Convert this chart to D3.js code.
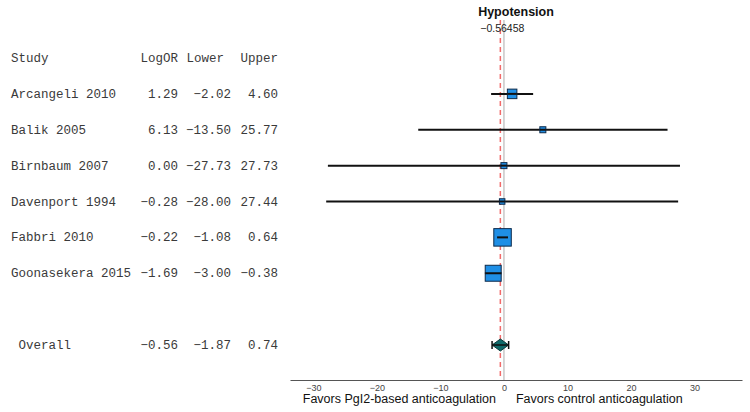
<!DOCTYPE html>
<html><head><meta charset="utf-8">
<script src="https://cdn.jsdelivr.net/npm/d3@7"></script>
<style>body{margin:0;background:#fff}svg{display:block}</style>
</head><body>
<svg id="c" width="750" height="412"></svg>
<script>
const studies = ["Arcangeli 2010","Balik 2005","Birnbaum 2007","Davenport 1994","Fabbri 2010","Goonasekera 2015"];
const logOR = [1.29, 6.13, 0.00, -0.28, -0.22, -1.69];
const lower = [-2.02, -13.50, -27.73, -28.00, -1.08, -3.00];
const upper = [4.60, 25.77, 27.73, 27.44, 0.64, -0.38];
const weights = [12.0, 4.8, 4.8, 4.0, 40.6, 33.8];
const overall = {label:"Overall", est:-0.56, lo:-1.87, hi:0.74, exact:-0.56458};
const headers = ["Study","LogOR","Lower","Upper"];
const xTicks = [-30,-20,-10,0,10,20,30];
const title = "Hypotension";
const leftLabel = "Favors PgI2-based anticoagulation";
const rightLabel = "Favors control anticoagulation";

const svg = d3.select("#c");
const x = d3.scaleLinear().domain([-33.7, 37.5]).range([290, 742]);
const y = d3.scalePoint().domain(d3.range(9)).range([58, 345]);
const size = d3.scaleSqrt().domain([0, 40.6]).range([0, 17.5]);
const mono = "'Liberation Mono','Courier New',monospace";
const sans = "'Liberation Sans',Arial,sans-serif";
const fmt = d3.format(".2f");

// reference lines
svg.append("line").attr("x1",x(0)).attr("x2",x(0)).attr("y1",20).attr("y2",380)
  .attr("stroke","#c8c8c8").attr("stroke-width",1.5);
svg.append("line").attr("x1",x(overall.exact)).attr("x2",x(overall.exact)).attr("y1",20).attr("y2",380)
  .attr("stroke","#f26a6a").attr("stroke-width",1.5).attr("stroke-dasharray","5,4");

// title
svg.append("text").attr("x",516).attr("y",16).attr("text-anchor","middle")
  .attr("font-family",sans).attr("font-weight","bold").attr("font-size",12.5).attr("fill","#111").text(title);
svg.append("text").attr("x",x(overall.exact)+2).attr("y",32).attr("text-anchor","middle")
  .attr("font-family",sans).attr("font-size",10.5).attr("fill","#222").text(String(overall.exact).replace("-","\u2212"));

// axis
const axis = d3.axisBottom(x).tickValues(xTicks).tickSize(0).tickPadding(5);
const ag = svg.append("g").attr("transform","translate(0,380)").call(axis);
ag.select(".domain").attr("stroke","#555").attr("stroke-width",1.2);
ag.selectAll("text").attr("font-family",sans).attr("font-size",9).attr("fill","#444");
svg.append("text").attr("x",x(0)-8).attr("y",403).attr("text-anchor","end")
  .attr("font-family",sans).attr("font-size",12.5).attr("fill","#111").text(leftLabel);
svg.append("text").attr("x",x(0)+12).attr("y",403).attr("text-anchor","start")
  .attr("font-family",sans).attr("font-size",12.5).attr("fill","#111").text(rightLabel);

// table text
const tcol = [{x:11,a:"start"},{x:178,a:"end"},{x:224,a:"end"},{x:278,a:"end"}];
const vcol = [{x:11,a:"start"},{x:178,a:"end"},{x:231,a:"end"},{x:278,a:"end"}];
const txt = (xx, yy, anchor, s) => svg.append("text").attr("x",xx).attr("y",yy+4).attr("text-anchor",anchor)
  .attr("font-family",mono).attr("font-size",12.5).attr("fill","#3a3a3a").text(s);
headers.forEach((h,i)=>txt(tcol[i].x, y(0), tcol[i].a, h));
studies.forEach((s,i)=>{
  const vals=[s, fmt(logOR[i]), fmt(lower[i]), fmt(upper[i])];
  vals.forEach((v,j)=>txt(vcol[j].x, y(i+1), vcol[j].a, v));
});
[" " + overall.label, fmt(overall.est), fmt(overall.lo), fmt(overall.hi)].forEach((v,j)=>
  txt(vcol[j].x, y(8), vcol[j].a, v).attr("xml:space","preserve").style("white-space","pre"));

// study CIs and boxes
const rows = studies.map((s,i)=>({s, est:logOR[i], lo:lower[i], hi:upper[i], w:weights[i], yy:y(i+1)}));
svg.selectAll("line.ci").data(rows).join("line").attr("class","ci")
  .attr("x1",d=>x(d.lo)).attr("x2",d=>x(d.hi)).attr("y1",d=>d.yy).attr("y2",d=>d.yy)
  .attr("stroke","#111").attr("stroke-width",2);
svg.selectAll("rect.box").data(rows).join("rect").attr("class","box")
  .attr("x",d=>x(d.est)-size(d.w)/2).attr("y",d=>d.yy-size(d.w)/2)
  .attr("width",d=>size(d.w)).attr("height",d=>size(d.w))
  .attr("fill","#1f8fe6").attr("stroke","#0d2a4a").attr("stroke-width",1);
svg.selectAll("line.mid").data(rows).join("line").attr("class","mid")
  .attr("x1",d=>Math.max(x(d.lo),x(d.est)-size(d.w)/2)).attr("x2",d=>Math.min(x(d.hi),x(d.est)+size(d.w)/2))
  .attr("y1",d=>d.yy).attr("y2",d=>d.yy).attr("stroke","#111").attr("stroke-width",2);

// overall diamond
const oy = y(8);
svg.append("path").attr("d",`M${x(overall.lo)},${oy}L${x(overall.est)},${oy-6}L${x(overall.hi)},${oy}L${x(overall.est)},${oy+6}Z`)
  .attr("fill","#0f6a6a").attr("stroke","#0a3a3a").attr("stroke-width",1);
svg.append("line").attr("x1",x(overall.lo)).attr("x2",x(overall.hi)).attr("y1",oy).attr("y2",oy)
  .attr("stroke","#111").attr("stroke-width",1.5);
[overall.lo, overall.hi].forEach(v=>svg.append("line").attr("x1",x(v)).attr("x2",x(v)).attr("y1",oy-4).attr("y2",oy+4)
  .attr("stroke","#111").attr("stroke-width",1.5));
</script>
</body></html>
